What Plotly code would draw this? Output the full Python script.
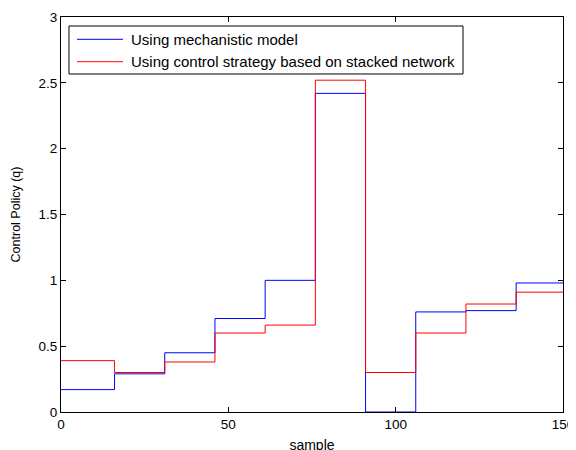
import plotly.graph_objects as go

x_steps = [0, 16, 31, 46, 61, 76, 91, 106, 121, 136, 150]
blue_vals = [0.17, 0.29, 0.45, 0.71, 1.00, 2.42, 0.00, 0.76, 0.77, 0.98]
red_vals = [0.39, 0.30, 0.38, 0.60, 0.66, 2.52, 0.30, 0.60, 0.82, 0.91]

names = ["Using mechanistic model", "Using control strategy based on stacked network"]
colors = ["#0000ff", "#ff0000"]
FONT = "Liberation Sans, Arial"

fig = go.Figure()
for vals, name, col in zip([blue_vals, red_vals], names, colors):
    fig.add_trace(go.Scatter(x=x_steps, y=vals + [vals[-1]], mode="lines",
                             line=dict(color=col, width=1, shape="hv"), name=name))

axis_common = dict(showgrid=False, zeroline=False, showline=True, linecolor="black", linewidth=1,
                   mirror="ticks", ticks="inside", ticklen=5, tickcolor="black", automargin=False,
                   tickfont=dict(family=FONT, size=13.5, color="black"))
fig.update_xaxes(range=[0, 150], tickvals=[0, 50, 100, 150],
                 title=dict(text="sample", font=dict(family=FONT, size=14, color="black"), standoff=8),
                 **axis_common)
fig.update_yaxes(range=[0, 3], tickvals=[0, 0.5, 1, 1.5, 2, 2.5, 3],
                 title=dict(text="Control Policy (q)", font=dict(family=FONT, size=12.5, color="black"), standoff=15),
                 **axis_common)

# MATLAB-style legend box (paper coordinates)
fig.add_shape(type="rect", xref="paper", yref="paper", x0=0.0159, x1=0.8008, y0=0.8557, y1=0.9772,
              line=dict(color="black", width=1), fillcolor="white", layer="above")
legend_rows_y = [0.9435, 0.8868]
for yy, name, col in zip(legend_rows_y, names, colors):
    fig.add_shape(type="line", xref="paper", yref="paper", x0=0.0319, x1=0.1235, y0=yy, y1=yy,
                  line=dict(color=col, width=1), layer="above")
    fig.add_annotation(xref="paper", yref="paper", x=0.1355, y=yy, text=name, showarrow=False,
                       xanchor="left", yanchor="middle",
                       font=dict(family=FONT, size=15, color="black"))

# page body adds ~8px offset; margins compensate so plot area lands at 61..563 x 17..412
fig.update_layout(
    width=576, height=450,
    margin=dict(l=53, r=21, t=9, b=46),
    plot_bgcolor="white", paper_bgcolor="white",
    font=dict(family=FONT, size=13, color="black"),
    showlegend=False,
)
fig.write_html("out.html")
